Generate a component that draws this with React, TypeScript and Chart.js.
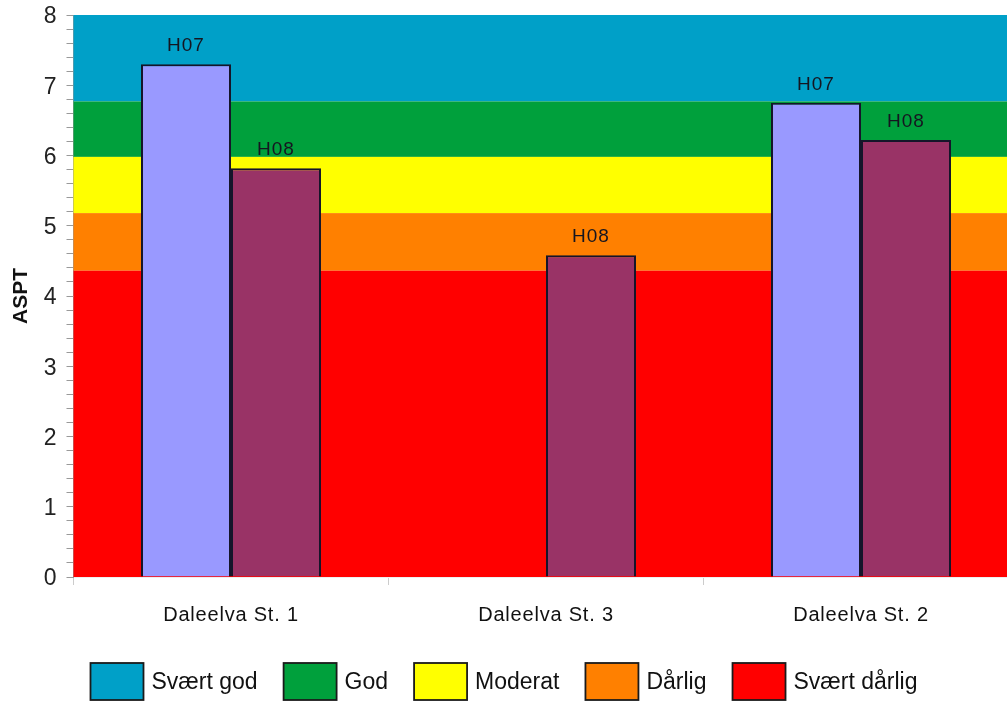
import React, { useEffect, useRef } from 'react';
import { Chart, registerables } from 'chart.js';

Chart.register(...registerables);

// ---- data ----
const categories = ['Daleelva St. 1', 'Daleelva St. 3', 'Daleelva St. 2'];
const seriesNames = ['H07', 'H08'];
const h07Values = [7.3, null, 6.75];
const h08Values = [5.82, 4.58, 6.22];
const seriesColors = ['#9999FF', '#993366'];

const classNames = ['Svært god', 'God', 'Moderat', 'Dårlig', 'Svært dårlig'];
const classUpper = [8, 6.77, 5.98, 5.18, 4.36];
const classLower = [6.77, 5.98, 5.18, 4.36, 0];
const classColors = ['#00A0C8', '#00A03C', '#FFFF00', '#FF8000', '#FF0000'];

const yMin = 0;
const yMax = 8;
const yStep = 0.2;
const yTitle = 'ASPT';

const SANS = "'Liberation Sans', Arial, sans-serif";

const bandsPlugin = {
  id: 'bands',
  beforeDatasetsDraw(chart: any) {
    const { ctx, chartArea, scales } = chart;
    const y = scales.y;
    ctx.save();
    for (let i = 0; i < classNames.length; i++) {
      const top = y.getPixelForValue(classUpper[i]);
      const bot = y.getPixelForValue(classLower[i]);
      ctx.fillStyle = classColors[i];
      ctx.fillRect(chartArea.left, top, chartArea.right - chartArea.left, bot - top);
    }
    ctx.restore();
  },
};

const labelsPlugin = {
  id: 'barLabels',
  afterDatasetsDraw(chart: any) {
    const { ctx } = chart;
    ctx.save();
    ctx.font = `19px ${SANS}`;
    (ctx as any).letterSpacing = '1px';
    ctx.fillStyle = '#151520';
    ctx.textAlign = 'center';
    ctx.textBaseline = 'alphabetic';
    chart.data.datasets.forEach((ds: any, di: number) => {
      const meta = chart.getDatasetMeta(di);
      meta.data.forEach((bar: any, i: number) => {
        const v = ds.data[i];
        if (v === null || v === undefined) return;
        ctx.fillText(ds.label, bar.x, bar.y - 13);
      });
    });
    ctx.restore();
    // spacing for the category labels drawn after the datasets
    (ctx as any).letterSpacing = '0.8px';
  },
  afterDraw(chart: any) {
    const { ctx } = chart;
    (ctx as any).letterSpacing = '0px';
    // legend of classes
    ctx.save();
    const boxW = 53;
    const boxH = 37;
    const gapText = 8;
    const gapItem = 26;
    ctx.font = `23px ${SANS}`;
    const widths = classNames.map((n) => ctx.measureText(n).width);
    const total = widths.reduce((a, b) => a + b, 0) + classNames.length * (boxW + gapText) + (classNames.length - 1) * gapItem;
    let x = 504 - total / 2;
    const top = 663;
    for (let i = 0; i < classNames.length; i++) {
      ctx.fillStyle = classColors[i];
      ctx.fillRect(x, top, boxW, boxH);
      ctx.strokeStyle = '#1a1a1a';
      ctx.lineWidth = 1.8;
      ctx.strokeRect(x, top, boxW, boxH);
      x += boxW + gapText;
      ctx.fillStyle = '#111';
      ctx.textAlign = 'left';
      ctx.textBaseline = 'middle';
      ctx.fillText(classNames[i], x, top + boxH / 2 + 1);
      x += widths[i] + gapItem;
    }
    ctx.restore();
  },
};

export default function App() {
  const ref = useRef<HTMLCanvasElement | null>(null);

  useEffect(() => {
    if (!ref.current) return;
    const chart = new Chart(ref.current, {
      type: 'bar',
      data: {
        labels: categories,
        datasets: [
          {
            label: seriesNames[0],
            data: h07Values as any,
            backgroundColor: seriesColors[0],
            borderColor: '#15152a',
            borderWidth: 2,
            categoryPercentage: 0.5714,
            barPercentage: 1,
          },
          {
            label: seriesNames[1],
            data: h08Values as any,
            backgroundColor: seriesColors[1],
            borderColor: '#15152a',
            borderWidth: 2,
            categoryPercentage: 0.5714,
            barPercentage: 1,
          },
        ],
      },
      options: {
        responsive: false,
        animation: false,
        devicePixelRatio: 1,
        layout: { padding: { top: 15, right: 1.5, bottom: 0, left: 0 } },
        plugins: {
          legend: { display: false },
          tooltip: { enabled: false },
        },
        scales: {
          x: {
            grid: {
              display: true,
              drawOnChartArea: false,
              drawTicks: true,
              tickLength: 8,
              color: '#cccccc',
              offset: true,
            },
            border: { display: true, color: '#eeeeee' },
            ticks: {
              z: 1,
              color: '#111',
              font: { family: SANS, size: 20 },
              padding: 18,
              maxRotation: 0,
            },
            afterFit(scale: any) {
              scale.height = 125;
              scale.paddingLeft = 0;
              scale.paddingRight = 0;
            },
          },
          y: {
            min: yMin,
            max: yMax,
            grid: {
              display: true,
              drawOnChartArea: false,
              drawTicks: true,
              tickLength: 7,
              color: '#999999',
            },
            border: { display: true, color: '#999999' },
            ticks: {
              stepSize: yStep,
              autoSkip: false,
              color: '#222',
              font: { family: SANS, size: 23 },
              padding: 10,
              labelOffset: 2,
              callback: (v: any) => {
                const n = Number(v);
                return Math.abs(n - Math.round(n)) < 1e-6 ? String(Math.round(n)) : '';
              },
            },
            title: {
              display: true,
              text: yTitle,
              color: '#111',
              font: { family: SANS, size: 21, weight: 'bold' },
              padding: { top: 9, bottom: 0 },
            },
            afterFit(scale: any) {
              scale.width = 73.5;
              scale.paddingTop = 0;
              scale.paddingBottom = 0;
            },
          },
        },
      } as any,
      plugins: [bandsPlugin, labelsPlugin],
    });
    return () => chart.destroy();
  }, []);

  return (
    <div style={{ position: 'absolute', left: 0, top: 0, width: 1007, height: 702, overflow: 'hidden', background: '#fff' }}>
      <canvas ref={ref} width={1020} height={702} style={{ width: 1020, height: 702, display: 'block' }} />
    </div>
  );
}
